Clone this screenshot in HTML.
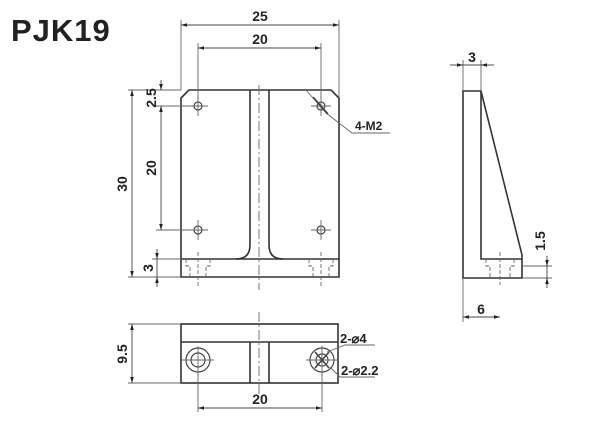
<!DOCTYPE html>
<html><head><meta charset="utf-8"><style>
html,body{margin:0;padding:0;background:#fff;width:600px;height:430px;overflow:hidden}
svg{display:block}
text{font-family:"Liberation Sans",sans-serif;font-weight:bold;fill:#222}
</style></head><body>
<svg width="600" height="430" viewBox="0 0 600 430" xmlns="http://www.w3.org/2000/svg">
<defs>
<marker id="a" viewBox="0 0 10 6" refX="10" refY="3" markerWidth="8" markerHeight="4" orient="auto-start-reverse"><path d="M0,0L10,3L0,6z" fill="#222"/></marker>
</defs>
<text x="11" y="41" font-size="31" style="font-weight:900;letter-spacing:1px" fill="#000">PJK19</text>

<g fill="none" stroke="#333" stroke-width="1.6">
<path d="M181,98 L189,90 L331,90 L339,98 L339,277 L181,277 Z"/>
<line x1="181" y1="259" x2="339" y2="259"/>
<path d="M250,90 L250,245 Q250,259 236,259"/>
<path d="M269,90 L269,245 Q269,259 283,259"/>
<rect x="181" y="324" width="157" height="59"/>
<line x1="181" y1="342" x2="338" y2="342"/>
<line x1="250" y1="342" x2="250" y2="383"/>
<line x1="269" y1="342" x2="269" y2="383"/>
<path d="M463,91 L481,91 L522,255 L522,278 L463,278 Z"/>
<path d="M481,91 L481,259 L522,259"/>
</g>

<g fill="none" stroke="#444" stroke-width="1.2">
<circle cx="198" cy="106" r="4"/><circle cx="321" cy="106" r="4"/>
<circle cx="198" cy="230" r="4"/><circle cx="321" cy="230" r="4"/>
<circle cx="198" cy="360" r="12"/><circle cx="198" cy="360" r="7"/>
<circle cx="322" cy="360" r="12"/><circle cx="322" cy="360" r="6"/>
</g>

<g stroke="#666" stroke-width="0.9" fill="none">
<line x1="259" y1="85" x2="259" y2="290" stroke-dasharray="10,3,2,3"/>
<line x1="259" y1="312" x2="259" y2="395" stroke-dasharray="10,3,2,3"/>
<line x1="188" y1="106" x2="208" y2="106"/><line x1="198" y1="96" x2="198" y2="116"/>
<line x1="311" y1="106" x2="331" y2="106"/><line x1="321" y1="96" x2="321" y2="116"/>
<line x1="188" y1="230" x2="208" y2="230"/><line x1="198" y1="220" x2="198" y2="240"/>
<line x1="311" y1="230" x2="331" y2="230"/><line x1="321" y1="220" x2="321" y2="240"/>
<line x1="198" y1="252" x2="198" y2="287" stroke-dasharray="4,2"/>
<line x1="321" y1="252" x2="321" y2="287" stroke-dasharray="4,2"/>
<path d="M186,259 L186,266 L190,266 L190,277 M210,259 L210,266 L206,266 L206,277" stroke-dasharray="4,2"/>
<path d="M309,259 L309,266 L313,266 L313,277 M333,259 L333,266 L329,266 L329,277" stroke-dasharray="4,2"/>
<path d="M486,259 L486,266 L490,266 L490,278 M514,259 L514,266 L510,266 L510,278" stroke-dasharray="4,2"/>
<line x1="500" y1="252" x2="500" y2="285" stroke-dasharray="4,2"/>
<line x1="182" y1="360" x2="214" y2="360"/><line x1="198" y1="346" x2="198" y2="376"/>
<line x1="306" y1="360" x2="338" y2="360"/><line x1="322" y1="346" x2="322" y2="376"/>
<line x1="181" y1="90" x2="181" y2="20"/><line x1="339" y1="98" x2="339" y2="20"/>
<line x1="198" y1="100" x2="198" y2="43"/><line x1="321" y1="100" x2="321" y2="43"/>
<line x1="181" y1="90" x2="128" y2="90"/><line x1="181" y1="277" x2="128" y2="277"/>
<line x1="192" y1="106" x2="156" y2="106"/><line x1="192" y1="230" x2="156" y2="230"/>
<line x1="181" y1="259" x2="152" y2="259"/>
<line x1="181" y1="324" x2="128" y2="324"/><line x1="181" y1="383" x2="128" y2="383"/>
<line x1="198" y1="372" x2="198" y2="412"/><line x1="322" y1="372" x2="322" y2="412"/>
<line x1="463" y1="91" x2="463" y2="60"/><line x1="481" y1="91" x2="481" y2="60"/>
<line x1="463" y1="278" x2="463" y2="322"/>
<line x1="522" y1="266" x2="552" y2="266"/><line x1="522" y1="278" x2="552" y2="278"/>
<path d="M306,90 L326,113 L352,133 L390,133"/>
<path d="M327,352 L345,345 L375,345"/>
<path d="M330,367 L340,377 L375,377"/>
</g>

<g stroke="#444" stroke-width="0.9" fill="none">
<line x1="181" y1="25" x2="339" y2="25" marker-start="url(#a)" marker-end="url(#a)"/>
<line x1="198" y1="48" x2="321" y2="48" marker-start="url(#a)" marker-end="url(#a)"/>
<line x1="132" y1="90" x2="132" y2="277" marker-start="url(#a)" marker-end="url(#a)"/>
<line x1="161" y1="80" x2="161" y2="90" marker-end="url(#a)"/>
<line x1="161" y1="106" x2="161" y2="230" marker-start="url(#a)" marker-end="url(#a)"/>
<line x1="157" y1="249" x2="157" y2="259" marker-end="url(#a)"/>
<line x1="157" y1="287" x2="157" y2="277" marker-end="url(#a)"/>
<line x1="157" y1="259" x2="157" y2="277"/>
<line x1="132" y1="324" x2="132" y2="383" marker-start="url(#a)" marker-end="url(#a)"/>
<line x1="198" y1="408" x2="322" y2="408" marker-start="url(#a)" marker-end="url(#a)"/>
<line x1="450" y1="65" x2="463" y2="65" marker-end="url(#a)"/>
<line x1="494" y1="65" x2="481" y2="65" marker-end="url(#a)"/>
<line x1="463" y1="65" x2="481" y2="65"/>
<line x1="463" y1="317" x2="500" y2="317" marker-start="url(#a)" marker-end="url(#a)"/>
<line x1="547" y1="256" x2="547" y2="266" marker-end="url(#a)"/>
<line x1="547" y1="288" x2="547" y2="278" marker-end="url(#a)"/>
<line x1="547" y1="266" x2="547" y2="278"/>
<line x1="313" y1="97" x2="328" y2="114" stroke-width="1.6"/>
<line x1="315" y1="352" x2="329" y2="368" stroke-width="1.6"/>
<line x1="329" y1="352" x2="315" y2="368" stroke-width="1.6"/>
</g>

<g font-size="14">
<text x="260" y="21" text-anchor="middle">25</text>
<text x="260" y="44" text-anchor="middle">20</text>
<text x="260" y="404" text-anchor="middle">20</text>
<text x="472" y="62" text-anchor="middle">3</text>
<text x="481" y="314" text-anchor="middle">6</text>
<text x="355" y="130" font-size="12">4-M2</text>
<text x="340" y="343" font-size="13">2-⌀4</text>
<text x="341" y="375" font-size="13">2-⌀2.2</text>
<text transform="translate(127,184) rotate(-90)" text-anchor="middle">30</text>
<text transform="translate(156,98) rotate(-90)" text-anchor="middle">2.5</text>
<text transform="translate(156,168) rotate(-90)" text-anchor="middle">20</text>
<text transform="translate(153,268) rotate(-90)" text-anchor="middle">3</text>
<text transform="translate(127,354) rotate(-90)" text-anchor="middle">9.5</text>
<text transform="translate(545,241) rotate(-90)" text-anchor="middle">1.5</text>
</g>
</svg>
</body></html>
